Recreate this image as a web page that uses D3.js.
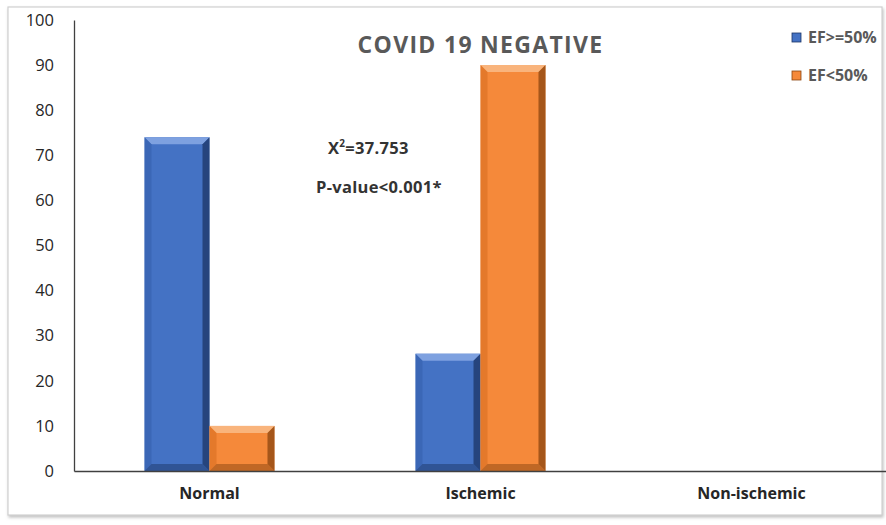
<!DOCTYPE html>
<html>
<head>
<meta charset="utf-8">
<script src="https://cdn.jsdelivr.net/npm/d3@7"></script>
<style>
  html, body { margin: 0; padding: 0; background: #fff; }
  svg { display: block; }
</style>
</head>
<body>
<svg id="chart" width="886" height="525"></svg>
<script>
// Chart data
const categories = ["Normal", "Ischemic", "Non-ischemic"];
const seriesNames = ["EF>=50%", "EF<50%"];
const efHigh = [74, 26, 0];   // EF>=50%
const efLow = [10, 90, 0];    // EF<50%
const yTicks = [0, 10, 20, 30, 40, 50, 60, 70, 80, 90, 100];
const chartTitle = "COVID 19 NEGATIVE";
const statLines = ["=37.753", "P-value<0.001*"];

const rows = categories.map((c, i) => ({ category: c, values: [efHigh[i], efLow[i]] }));

const margin = { left: 74 };
const svg = d3.select("#chart");
const font = "'Open Sans', sans-serif";

const palette = [
  { base: "#4472c4", light: "#7ea1e0", dark: "#1c3566", side: "#3660ad" },
  { base: "#f5893a", light: "#f9b47c", dark: "#8a4510", side: "#d86e22" }
];

// Frame with soft shadow
const defs = svg.append("defs");
const shadow = defs.append("filter").attr("id", "frameShadow").attr("x", "-5%").attr("y", "-5%").attr("width", "110%").attr("height", "110%");
shadow.append("feDropShadow").attr("dx", 1).attr("dy", 2).attr("stdDeviation", 1.5).attr("flood-color", "#999").attr("flood-opacity", 0.6);
svg.append("rect").attr("x", 8).attr("y", 7).attr("width", 874).attr("height", 508)
  .attr("fill", "#fff").attr("stroke", "#d0d0d0").attr("stroke-width", 1.2)
  .attr("filter", "url(#frameShadow)");

const x = d3.scaleBand().domain(categories).range([margin.left, 887]).paddingInner(0).paddingOuter(0);
const xs = d3.scaleBand().domain(d3.range(seriesNames.length)).range([0, x.bandwidth()]).paddingInner(0).paddingOuter(1.085);
const y = d3.scaleLinear().domain([0, 100]).range([471, 20]);

// Y axis
const yAxis = svg.append("g").attr("transform", `translate(${margin.left},0)`)
  .call(d3.axisLeft(y).tickValues(yTicks).tickSize(0).tickPadding(20));
yAxis.select(".domain").attr("stroke", "#404040").attr("stroke-width", 1.3);
yAxis.selectAll("text").attr("font-family", font).attr("font-size", 16.5).attr("fill", "#262626");

// Bars with bevelled edges
const bev = 7;
rows.forEach(row => {
  row.values.forEach((v, s) => {
    if (v <= 0) return;
    const x0 = x(row.category) + xs(s);
    const w = xs.bandwidth();
    const y0 = y(v), y1 = y(0);
    const c = palette[s];
    const g = svg.append("g");
    g.append("rect").attr("x", x0).attr("y", y0).attr("width", w).attr("height", y1 - y0).attr("fill", c.base);
    // top bevel
    g.append("polygon").attr("points", [[x0, y0], [x0 + w, y0], [x0 + w - bev, y0 + bev], [x0 + bev, y0 + bev]].join(" "))
      .attr("fill", c.light);
    // left bevel
    g.append("polygon").attr("points", [[x0, y0], [x0 + bev, y0 + bev], [x0 + bev, y1 - bev], [x0, y1]].join(" "))
      .attr("fill", c.side).attr("opacity", 0.6);
    // right bevel
    g.append("polygon").attr("points", [[x0 + w, y0], [x0 + w, y1], [x0 + w - bev, y1 - bev], [x0 + w - bev, y0 + bev]].join(" "))
      .attr("fill", c.dark).attr("opacity", 0.75);
    // bottom bevel
    g.append("polygon").attr("points", [[x0, y1], [x0 + w, y1], [x0 + w - bev, y1 - bev], [x0 + bev, y1 - bev]].join(" "))
      .attr("fill", c.dark).attr("opacity", 0.5);
  });
});

// X axis
const xAxis = svg.append("g").attr("transform", `translate(0,${y(0)})`)
  .call(d3.axisBottom(x).tickSize(0).tickPadding(17));
xAxis.select(".domain").attr("stroke", "#404040").attr("stroke-width", 1.3);
xAxis.selectAll("text").attr("font-family", font).attr("font-size", 16)
  .attr("font-weight", "bold").attr("fill", "#262626");

// Title
svg.append("text").attr("x", x("Ischemic") + x.bandwidth() / 2).attr("y", 53)
  .attr("text-anchor", "middle").attr("font-family", font)
  .attr("font-size", 23).attr("letter-spacing", 1.3).attr("font-weight", "bold").attr("fill", "#595959").text(chartTitle);

// Statistics
const stat = svg.append("text").attr("x", 328).attr("y", 154)
  .attr("font-family", font).attr("font-size", 16.5).attr("letter-spacing", 0.3).attr("font-weight", "bold").attr("fill", "#333");
stat.append("tspan").text("X");
stat.append("tspan").attr("font-size", 10).attr("dy", -7).text("2");
stat.append("tspan").attr("dy", 7).text(statLines[0]);
svg.append("text").attr("x", 316).attr("y", 193)
  .attr("font-family", font).attr("font-size", 16.5).attr("letter-spacing", 0.3).attr("font-weight", "bold").attr("fill", "#333")
  .text(statLines[1]);

// Legend
const legend = svg.append("g");
seriesNames.forEach((name, i) => {
  const ly = 43 + i * 38;
  legend.append("rect").attr("x", 792).attr("y", ly - 10).attr("width", 9).attr("height", 9).attr("fill", palette[i].base)
    .attr("stroke", palette[i].dark).attr("stroke-width", 0.8);
  legend.append("text").attr("x", 808).attr("y", ly)
    .attr("font-family", font).attr("font-size", 16).attr("font-weight", "bold")
    .attr("fill", "#595959").text(name);
});
</script>
</body>
</html>
